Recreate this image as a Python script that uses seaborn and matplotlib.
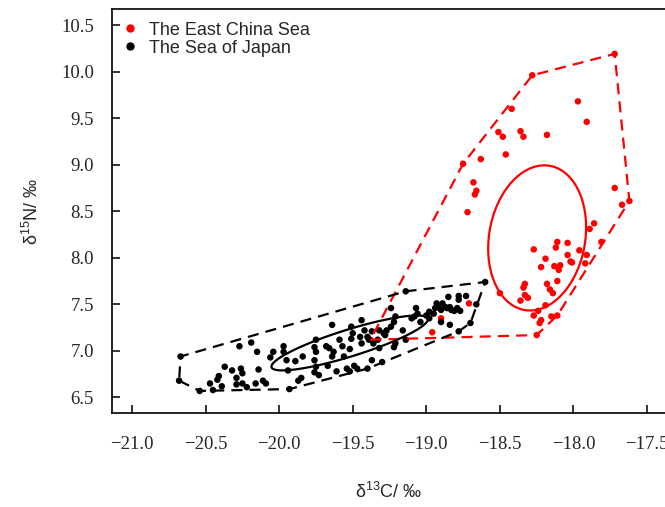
import numpy as np
import pandas as pd
import matplotlib
matplotlib.use("Agg")
import matplotlib.pyplot as plt
from matplotlib.lines import Line2D
import seaborn as sns

# ---------------- data ----------------
group_names = ["The East China Sea", "The Sea of Japan"]
group_colors = ["#ff0000", "#000000"]

ecs_d13c = [-17.72, -18.28, -18.42, -17.97, -17.91, -18.51, -18.48, -18.36, -18.34, -18.18,
            -18.63, -18.46, -18.75, -18.68, -18.66, -18.67, -18.72, -17.72, -17.67, -17.62,
            -17.86, -17.89, -17.81, -18.11, -18.12, -18.04, -18.27, -17.96, -17.91, -18.04,
            -18.19, -18.02, -18.01, -18.13, -18.09, -18.10, -18.22, -17.92, -18.11, -18.18,
            -18.16, -18.14, -18.33, -18.34, -18.33, -18.31, -18.36, -18.50, -18.19, -18.24,
            -18.27, -18.22, -18.23, -18.15, -18.11, -18.25, -18.71, -18.90, -18.96, -19.38]
ecs_d15n = [10.19, 9.96, 9.60, 9.68, 9.46, 9.35, 9.30, 9.36, 9.30, 9.32,
            9.06, 9.11, 9.01, 8.81, 8.72, 8.68, 8.49, 8.75, 8.57, 8.61,
            8.37, 8.31, 8.17, 8.17, 8.11, 8.16, 8.09, 8.08, 8.03, 8.03,
            7.99, 7.96, 7.95, 7.91, 7.92, 7.87, 7.90, 7.94, 7.75, 7.72,
            7.66, 7.62, 7.72, 7.68, 7.60, 7.57, 7.54, 7.62, 7.49, 7.43,
            7.38, 7.33, 7.30, 7.37, 7.38, 7.17, 7.51, 7.35, 7.20, 7.12]

soj_d13c = [-20.67, -20.68, -20.54, -20.47, -20.45, -20.42, -20.41, -20.39, -20.37, -20.32,
            -20.27, -20.29, -20.29, -20.26, -20.25, -20.25, -20.22, -20.19, -20.15, -20.16,
            -20.14, -20.11, -20.09, -20.06, -20.04,
            -19.97, -19.97, -19.95, -19.94, -19.93, -19.89, -19.84, -19.87, -19.85, -19.75,
            -19.76, -19.75, -19.76, -19.75, -19.76, -19.73, -19.64, -19.68, -19.66, -19.64,
            -19.63, -19.67, -19.61, -19.59, -19.57, -19.56,
            -19.54, -19.52, -19.49, -19.47, -19.52, -19.51, -19.50, -19.45, -19.44, -19.40,
            -19.42, -19.40, -19.39, -19.37, -19.36, -19.44, -19.33, -19.32, -19.30, -19.32,
            -19.37, -19.51, -19.29, -19.28, -19.27, -19.24, -19.22, -19.21, -19.24, -19.22,
            -19.21, -19.14, -19.16,
            -19.14, -19.10, -19.08, -19.07, -19.06, -19.04, -19.00, -18.98, -18.98, -18.95,
            -18.94, -18.93, -18.92, -18.90, -18.89, -18.87, -18.86, -18.85, -18.84, -18.83,
            -18.81, -18.79, -18.78, -18.78, -18.77, -18.73, -18.90, -18.84, -18.78, -18.66,
            -18.70, -18.60]
soj_d15n = [6.94, 6.68, 6.57, 6.65, 6.58, 6.69, 6.73, 6.62, 6.83, 6.79,
            7.05, 6.71, 6.64, 6.81, 6.76, 6.65, 6.61, 7.09, 6.99, 6.65,
            6.80, 6.68, 6.65, 6.93, 6.99,
            7.05, 6.99, 6.90, 6.79, 6.59, 6.89, 6.94, 6.68, 6.71, 7.12,
            7.04, 6.99, 6.90, 6.83, 6.77, 6.74, 7.28, 7.05, 7.03, 6.94,
            6.99, 6.84, 6.78, 7.12, 7.05, 6.94,
            6.81, 6.78, 6.84, 6.81, 7.02, 7.13, 7.19, 7.15, 7.33, 6.81,
            7.22, 7.15, 7.12, 7.21, 7.08, 7.08, 7.12, 7.03, 6.88, 7.22,
            6.90, 7.26, 7.19, 7.17, 7.22, 7.26, 7.31, 7.37, 7.46, 7.04,
            7.08, 7.12, 7.22,
            7.64, 7.35, 7.37, 7.46, 7.40, 7.31, 7.38, 7.35, 7.42, 7.40,
            7.46, 7.51, 7.47, 7.44, 7.51, 7.47, 7.46, 7.58, 7.47, 7.44,
            7.43, 7.46, 7.59, 7.55, 7.43, 7.59, 7.31, 7.28, 7.21, 7.50,
            7.30, 7.74]

x_ticks = [-21.0, -20.5, -20.0, -19.5, -19.0, -18.5, -18.0, -17.5]
y_ticks = [6.5, 7.0, 7.5, 8.0, 8.5, 9.0, 9.5, 10.0, 10.5]
x_label = "δ$^{13}$C/ ‰"
y_label = "δ$^{15}$N/ ‰"

df = pd.DataFrame({
    "d13C": ecs_d13c + soj_d13c,
    "d15N": ecs_d15n + soj_d15n,
    "region": [group_names[0]] * len(ecs_d13c) + [group_names[1]] * len(soj_d13c),
})


def convex_hull(xs, ys):
    pts = sorted(set(zip(xs, ys)))

    def cross(o, a, b):
        return (a[0] - o[0]) * (b[1] - o[1]) - (a[1] - o[1]) * (b[0] - o[0])

    lower, upper = [], []
    for p in pts:
        while len(lower) >= 2 and cross(lower[-2], lower[-1], p) <= 0:
            lower.pop()
        lower.append(p)
    for p in reversed(pts):
        while len(upper) >= 2 and cross(upper[-2], upper[-1], p) <= 0:
            upper.pop()
        upper.append(p)
    hull = lower[:-1] + upper[:-1]
    hull.append(hull[0])
    return np.array(hull)


def standard_ellipse(xs, ys, n=300):
    x = np.asarray(xs)
    y = np.asarray(ys)
    cov = np.cov(x, y)
    vals, vecs = np.linalg.eigh(cov)
    t = np.linspace(0, 2 * np.pi, n)
    circ = np.vstack([np.cos(t), np.sin(t)])
    pts = vecs @ (np.sqrt(vals)[:, None] * circ)
    return x.mean() + pts[0], y.mean() + pts[1]


# ---------------- style ----------------
sns.set_style("ticks")
plt.rcParams["font.family"] = ["Liberation Sans", "DejaVu Sans"]
plt.rcParams["mathtext.fontset"] = "custom"
plt.rcParams["mathtext.rm"] = "Liberation Sans"
plt.rcParams["mathtext.it"] = "Liberation Sans:italic"

fig = plt.figure(figsize=(6.65, 5.07), dpi=100)
ax = fig.add_axes([112 / 665, 1 - 413 / 507, 1 - 112 / 665, (413 - 9) / 507])

palette = dict(zip(group_names, group_colors))
sns.scatterplot(data=df, x="d13C", y="d15N", hue="region", palette=palette,
                s=22, linewidth=0, edgecolor="none", legend=False, ax=ax, zorder=2)

for name, col, xs, ys in [(group_names[0], group_colors[0], ecs_d13c, ecs_d15n),
                          (group_names[1], group_colors[1], soj_d13c, soj_d15n)]:
    h = convex_hull(xs, ys)
    ax.plot(h[:, 0], h[:, 1], color=col, lw=1.6, dashes=(5, 3.2), zorder=3)
    ex, ey = standard_ellipse(xs, ys)
    ax.plot(ex, ey, color=col, lw=1.6, zorder=3)

ax.set_xlim(-21.136, -17.378)
ax.set_ylim(6.333, 10.672)
ax.set_xticks(x_ticks)
ax.set_yticks(y_ticks)
ax.set_xticklabels([f"{v:.1f}".replace("-", "\u2212") for v in x_ticks],
                   family="Liberation Serif", fontsize=13.5)
ax.set_yticklabels([f"{v:.1f}" for v in y_ticks], family="Liberation Serif", fontsize=13.5)
ax.tick_params(direction="in", length=6, width=1.1, color="black")
ax.tick_params(axis="x", pad=16.5)
ax.tick_params(axis="y", pad=13)

for s in ["left", "bottom", "top"]:
    ax.spines[s].set_linewidth(1.2)
    ax.spines[s].set_color("black")
ax.spines["right"].set_visible(False)

ax.set_xlabel(x_label, fontsize=13, labelpad=21)
ax.set_ylabel(y_label, fontsize=13, labelpad=14)

handles = [Line2D([], [], marker="o", ls="none", color=c, markersize=5) for c in group_colors]
ax.legend(handles, group_names, loc="upper left", bbox_to_anchor=(0.0, 1.0), frameon=False,
          fontsize=13, handlelength=0.6, handletextpad=0.75, labelspacing=0.05,
          borderaxespad=0.3, borderpad=0.4)

fig.savefig("out.png", dpi=100)
